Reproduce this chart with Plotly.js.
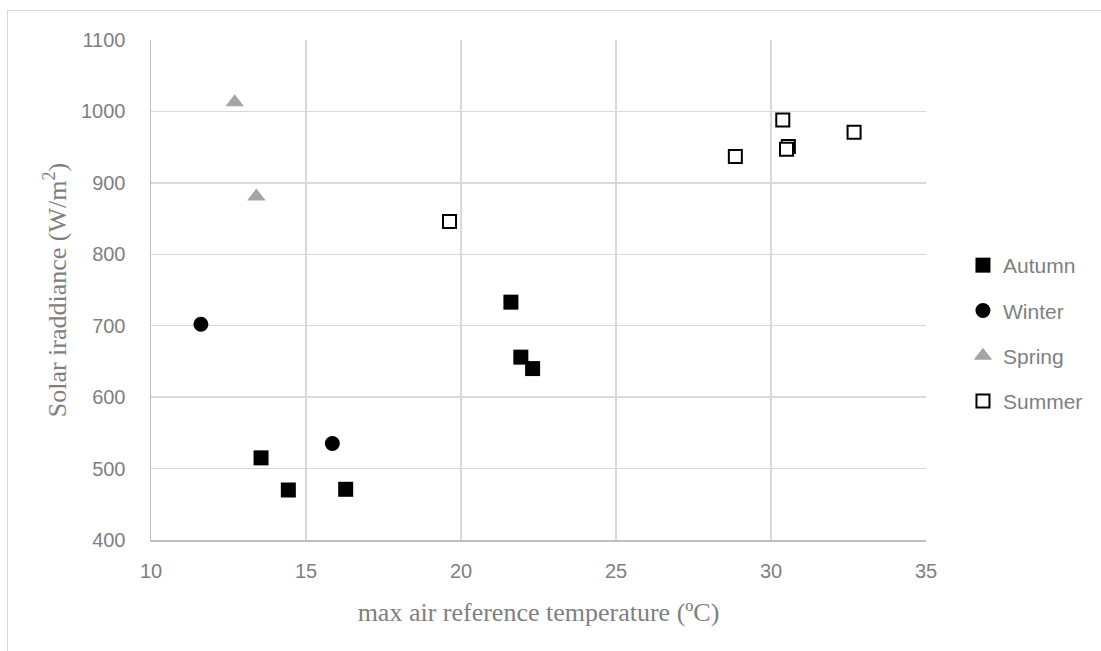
<!DOCTYPE html>
<html>
<head>
<meta charset="utf-8">
<script src="https://cdn.plot.ly/plotly-3.0.1.min.js"></script>
<style>
  html, body { margin: 0; padding: 0; background: #ffffff; overflow: hidden; }
  #wrap { position: relative; width: 1101px; height: 651px; }
  #chart { position: absolute; left: 0; top: 0; width: 1101px; height: 651px; }
  #frame { position: absolute; left: 7px; top: 10px; width: 1200px; height: 800px;
           border-left: 1px solid #d9d9d9; border-top: 1px solid #d9d9d9; pointer-events: none; }
</style>
</head>
<body>
<div id="wrap">
  <div id="chart"></div>
  <div id="frame"></div>
</div>
<script>
// Data
const autumnX = [13.55, 14.43, 16.28, 21.61, 21.93, 22.31];
const autumnY = [515, 470, 471, 733, 656, 640];
const winterX = [11.61, 15.85];
const winterY = [702, 535];
const springX = [12.70, 13.40];
const springY = [1013, 881];
const summerX = [19.63, 28.85, 30.38, 30.56, 30.50, 32.68];
const summerY = [846, 937, 988, 951, 947, 971];

const xTicks = [10, 15, 20, 25, 30, 35];
const yTicks = [400, 500, 600, 700, 800, 900, 1000, 1100];

const tickFont = { family: 'Liberation Sans, Arial, sans-serif', size: 20, color: '#7f7f7f' };
const titleFont = { family: 'Liberation Serif, Times New Roman, serif', size: 26, color: '#7f7f7f' };

const traces = [
  { name: 'Autumn', x: autumnX, y: autumnY, type: 'scatter', mode: 'markers', legendgroup: 'a',
    marker: { symbol: 'square', size: 15, color: '#000000' } },
  { name: 'Winter', x: winterX, y: winterY, type: 'scatter', mode: 'markers', legendgroup: 'w',
    marker: { symbol: 'circle', size: 15, color: '#000000' } },
  { name: 'Spring', x: springX, y: springY, type: 'scatter', mode: 'markers', legendgroup: 's',
    marker: { symbol: 'triangle-up', size: 16, color: '#a5a5a5' } },
  { name: 'Summer', x: summerX, y: summerY, type: 'scatter', mode: 'markers', legendgroup: 'u',
    marker: { symbol: 'square', size: 13, color: '#ffffff', line: { color: '#000000', width: 2 } } }
];

const layout = {
  width: 1101, height: 651,
  margin: { l: 151, r: 175, t: 40, b: 111, pad: 0 },
  paper_bgcolor: '#ffffff', plot_bgcolor: '#ffffff',
  showlegend: true,
  legend: {
    x: 1.0477, xanchor: 'left', y: 0.413, yanchor: 'middle',
    font: { family: 'Liberation Sans, Arial, sans-serif', size: 21, color: '#7f7f7f' },
    traceorder: 'grouped', tracegroupgap: 15, itemwidth: 30,
    bgcolor: 'rgba(0,0,0,0)'
  },
  xaxis: {
    range: [10, 35], tickvals: xTicks, ticktext: xTicks.map(String),
    showgrid: true, gridcolor: '#d9d9d9', gridwidth: 1.3,
    showline: true, linecolor: '#bfbfbf', linewidth: 1.5, mirror: false,
    zeroline: false, ticks: '', tickfont: tickFont, ticklabelstandoff: 12,
    title: { text: 'max air reference temperature (ºC)', font: titleFont, standoff: 22 }
  },
  yaxis: {
    range: [400, 1100], tickvals: yTicks, ticktext: yTicks.map(String),
    showgrid: true, gridcolor: '#d9d9d9', gridwidth: 1.3,
    showline: true, linecolor: '#bfbfbf', linewidth: 1.5,
    zeroline: false, ticks: '', tickfont: tickFont, ticklabelstandoff: 20,
    title: { text: 'Solar iraddiance (W/m<sup>2</sup>)', font: titleFont, standoff: 7 }
  }
};

Plotly.newPlot('chart', traces, layout, { displayModeBar: false, staticPlot: true });
</script>
</body>
</html>
